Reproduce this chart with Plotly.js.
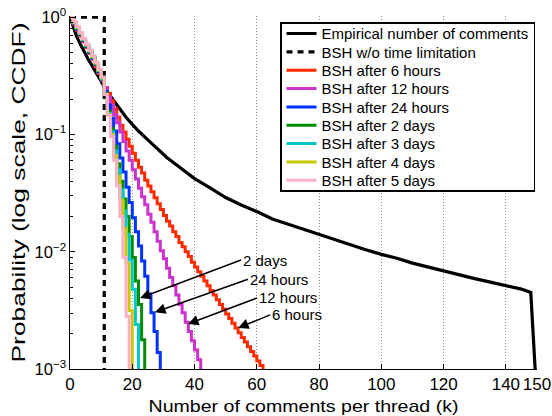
<!DOCTYPE html>
<html>
<head>
<meta charset="utf-8">
<script src="https://cdn.plot.ly/plotly-3.0.1.min.js"></script>
<style>
  html, body { margin: 0; padding: 0; background: #fff; }
  #chart { width: 552px; height: 416px; }
</style>
</head>
<body>
<div id="chart"></div>
<script>
// ---------- data ----------
// number of comments per thread (integer steps for the BSH curves)
const k = [0,1,2,3,4,5,6,7,8,9,10,11,12,13,14,15,16,17,18,19,20,21,22,23,24,25,26,27,28,29,30,
           31,32,33,34,35,36,37,38,39,40,41,42,43,44,45,46,47,48,49,50,51,52,53,54,55,56,57,58,59,60,61,62];

// Empirical CCDF
const empX = [0,1,2,3,4,5,6,7,8,9,10,12,14,16,18,20,22,25,28,31,35,40,45,50,55,60,65,70,75,80,85,90,95,100,105,110,115,120,125,130,135,140,145,148,149.5];
const empY = [1,0.82,0.70,0.61,0.54,0.48,0.43,0.39,0.35,0.31,0.28,0.23,0.195,0.165,0.14,0.122,0.107,0.09,0.076,0.064,0.053,0.042,0.035,0.029,0.025,0.022,0.019,0.0172,0.0156,0.0141,0.0128,0.0114,0.0104,0.0095,0.0088,0.0080,0.0074,0.0069,0.0063,0.0059,0.0055,0.0051,0.0048,0.0045,0.0009];

// BSH without time limitation
const bshNoLimX = [0, 11, 11];
const bshNoLimY = [1, 1, 0.0005];

// BSH CCDFs (value at k = 0,1,2,...)
const bsh6h = [1,0.871,0.776,0.692,0.617,0.550,0.490,0.437,0.380,0.331,0.288,
  0.251,0.224,0.195,0.166,0.141,0.120,0.105,0.0912,0.0794,0.0692,
  0.0603,0.0525,0.0468,0.0407,0.0363,0.0324,0.0288,0.0257,0.0229,0.0204,
  0.0182,0.0166,0.0148,0.0135,0.0120,0.0110,0.0100,0.00912,0.00813,0.00741,
  0.00676,0.00617,0.00562,0.00513,0.00468,0.00427,0.00389,0.00355,0.00324,0.00295,
  0.00269,0.00245,0.00224,0.00204,0.00186,0.00170,0.00155,0.00141,0.00129,0.00117,
  0.00107,0.0005];
const bsh12h = [1,0.881,0.785,0.700,0.624,0.556,0.495,0.442,0.389,0.339,0.292,
  0.251,0.209,0.178,0.148,0.126,0.105,0.0871,0.0724,0.0603,0.0501,
  0.0417,0.0347,0.0295,0.0251,0.0209,0.0178,0.0148,0.0123,0.0102,0.00871,
  0.00724,0.00603,0.00513,0.00427,0.00355,0.00302,0.00251,0.00209,0.00174,0.00145,
  0.00120,0.0005];
const bsh24h = [1,0.891,0.794,0.708,0.631,0.562,0.501,0.447,0.394,0.343,0.295,
  0.234,0.178,0.138,0.107,0.0832,0.0631,0.0479,0.0355,0.0263,0.0195,
  0.0148,0.0112,0.00832,0.00617,0.00437,0.00302,0.00209,0.00138,0.0005];
const bsh2d = [1,0.897,0.804,0.716,0.638,0.569,0.507,0.452,0.398,0.347,0.299,
  0.224,0.158,0.112,0.0794,0.0562,0.0398,0.0282,0.0200,0.0135,0.00891,
  0.00562,0.00355,0.00178,0.0005];
const bsh3d = [1,0.902,0.813,0.724,0.646,0.575,0.513,0.457,0.403,0.351,0.302,
  0.219,0.151,0.105,0.0724,0.0501,0.0339,0.0224,0.0141,0.00851,0.00479,
  0.00240,0.0005];
const bsh4d = [1,0.908,0.822,0.733,0.653,0.582,0.519,0.462,0.407,0.355,0.305,
  0.219,0.148,0.100,0.0661,0.0437,0.0275,0.0158,0.00794,0.00316,0.0005];
const bsh5d = [1,0.912,0.832,0.741,0.661,0.589,0.525,0.468,0.412,0.359,0.309,
  0.219,0.145,0.0955,0.0603,0.0363,0.0200,0.00891,0.00282,0.0005];

const seriesNames = ['Empirical number of comments','BSH w/o time limitation','BSH after 6 hours',
  'BSH after 12 hours','BSH after 24 hours','BSH after 2 days','BSH after 3 days','BSH after 4 days','BSH after 5 days'];

const xTickVals = [0,20,40,60,80,100,120,140,150];

// arrow labels: text, head point (k, probability)
const annTexts = ['2 days','24 hours','12 hours','6 hours'];
const annHeadK = [22.5, 27.3, 37.9, 54.0];
const annHeadP = [0.00403, 0.00305, 0.00242, 0.00224];

// ---------- styling ----------
const FONT = 'Liberation Sans, Arial, Helvetica, sans-serif';
const bshColors = ['#FF2A00','#CC33CC','#0033FF','#008C00','#00C8C8','#C8C800','#FFAFC8'];
const bshData = [bsh6h, bsh12h, bsh24h, bsh2d, bsh3d, bsh4d, bsh5d];

const traces = [
  {x: empX, y: empY, name: seriesNames[0], mode: 'lines', line: {color: '#000', width: 3.2}},
  {x: bshNoLimX, y: bshNoLimY, name: seriesNames[1], mode: 'lines', line: {color: '#000', width: 3.2, dash: '6px,5px'}}
];
bshData.forEach((ys, i) => {
  traces.push({
    x: k.slice(0, ys.length), y: ys, name: seriesNames[i + 2], mode: 'lines',
    line: {color: bshColors[i], width: 3, shape: 'hv'}
  });
});

const annOffsets = [[101,-38],[93,-33],[69,-26],[32,-13]];
const annotations = annTexts.map((t, i) => ({
  x: annHeadK[i], y: Math.log10(annHeadP[i]), xref: 'x', yref: 'y',
  text: t, showarrow: true, ax: annOffsets[i][0], ay: annOffsets[i][1],
  xanchor: 'left', yanchor: 'middle', arrowhead: 2, arrowsize: 1.4, arrowwidth: 1.5,
  arrowcolor: '#000', font: {family: FONT, size: 15, color: '#000'}, borderpad: 1
}));

const LEG_BW = 1.5;
const layout = {
  width: 552, height: 416,
  margin: {l: 70, r: 15, t: 16, b: 47},
  paper_bgcolor: '#fff', plot_bgcolor: '#fff',
  font: {family: FONT, color: '#000'},
  showlegend: true,
  legend: {
    x: 0.4497, y: 0.983, xanchor: 'left', yanchor: 'top',
    bordercolor: '#000', borderwidth: LEG_BW, bgcolor: '#fff',
    font: {family: FONT, size: 15, color: '#000'}, itemwidth: 30
  },
  xaxis: {
    range: [0, 150], tickmode: 'array', tickvals: xTickVals, tickangle: 0,
    showgrid: true, gridcolor: '#8c8c8c', griddash: '1px,2px', gridwidth: 1,
    zeroline: false, showline: true, linecolor: '#000', linewidth: 1,
    ticks: 'inside', ticklen: 5, tickcolor: '#000',
    tickfont: {family: FONT, size: 17, color: '#000'},
    title: {text: 'Number of comments per thread (k)', font: {family: FONT, size: 17, color: '#000'}, standoff: 6}
  },
  yaxis: {
    type: 'log', range: [-3, 0.01], dtick: 1, exponentformat: 'power',
    labelalias: {'1': '10<sup>0</sup>'},
    showgrid: false, zeroline: false, showline: true, linecolor: '#000', linewidth: 1,
    ticks: 'inside', ticklen: 5, tickcolor: '#000',
    minor: {ticks: 'inside', ticklen: 3, dtick: 'D1', tickcolor: '#000', showgrid: false},
    tickfont: {family: FONT, size: 13.3, color: '#000'},
    title: {text: 'Probability (log scale, CCDF)', font: {family: FONT, size: 18, color: '#000'}, standoff: 4}
  },
  annotations: annotations
};

Plotly.newPlot('chart', traces, layout, {displayModeBar: false, staticPlot: true}).then(gd => {
  // axis titles: match the stretched lettering of the original figure
  const xt = gd.querySelector('.xtitle');
  if (xt) { xt.setAttribute('textLength', '310'); xt.setAttribute('lengthAdjust', 'spacingAndGlyphs'); }
  const yt = gd.querySelector('.ytitle');
  if (yt) { yt.setAttribute('textLength', '340'); yt.setAttribute('lengthAdjust', 'spacingAndGlyphs'); }
  // legend: tighter row spacing like the original (MATLAB) legend
  const leg = gd.querySelector('.legend');
  if (leg) {
    const rowH = 18.35, firstY = 11.5;
    const items = leg.querySelectorAll('.traces');
    items.forEach((g, i) => {
      const m = /translate\(\s*([-\d.]+)/.exec(g.getAttribute('transform') || '');
      const tx = m ? parseFloat(m[1]) : LEG_BW;
      g.setAttribute('transform', 'translate(' + tx + ',' + (firstY + rowH * i) + ')');
    });
    const bg = leg.querySelector('rect.bg');
    if (bg) bg.setAttribute('height', String(firstY * 2 + rowH * (items.length - 1) - LEG_BW));
  }
});
</script>
</body>
</html>
